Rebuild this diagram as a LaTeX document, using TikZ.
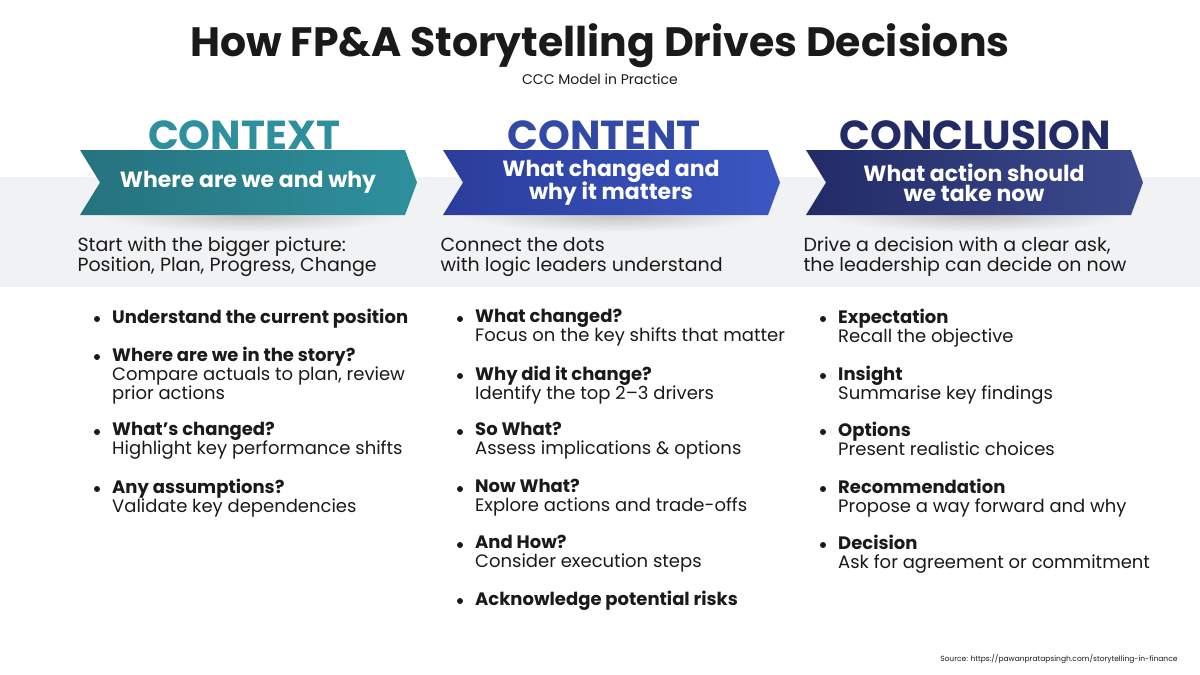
\documentclass[tikz,border=0pt]{standalone}
\usepackage{fontspec}
\setmainfont{Poppins}
\definecolor{txt}{HTML}{1A1A1A}
\definecolor{band}{HTML}{F1F2F4}
\definecolor{tA1}{HTML}{25737E}\definecolor{tA2}{HTML}{2E909D}
\definecolor{tB1}{HTML}{2B3D9C}\definecolor{tB2}{HTML}{3B57C2}
\definecolor{tC1}{HTML}{222B66}\definecolor{tC2}{HTML}{3C4A8E}
\begin{document}
\begin{tikzpicture}[x=1pt,y=-1pt,
  head/.style={font=\fontsize{40.5}{40}\selectfont\bfseries,anchor=base},
  sub/.style={font=\fontsize{22}{22}\selectfont\bfseries,text=white,align=center},
  intro/.style={font=\fontsize{19}{20}\selectfont,text=txt,align=left,anchor=north west},
  item/.style={font=\fontsize{18}{19}\selectfont,text=txt,align=left,anchor=north west,inner sep=0pt},
  dot/.style={circle,fill=txt,inner sep=0pt,minimum size=6pt}]
\useasboundingbox (0,0) rectangle (1200,675);
\fill[white] (0,0) rectangle (1200,675);
\fill[band] (0,177) rectangle (1200,287);
\node[font=\fontsize{41}{41}\selectfont\bfseries,text=txt] (title) at (600,46) {How FP\&A Storytelling Drives Decisions};
\node[font=\fontsize{14}{14}\selectfont,text=txt] (stitle) at (600,79) {CCC Model in Practice};
\foreach \x/\a/\b in {80/tA1/tA2,443/tB1/tB2,806/tC1/tC2}{
  \shade[inner color=black!22,outer color=band] (\x+170,216) ellipse[x radius=150,y radius=16];
  \shade[left color=\a,right color=\b]
   (\x,150) -- (\x+325,150) -- (\x+337,182.5) -- (\x+325,215) -- (\x,215) -- (\x+20,182.5) -- cycle;
}
\node[head,text=tA2] (hA) at (244,149) {CONTEXT};
\node[head,text=tB2!85!black] (hB) at (604,149) {CONTENT};
\node[head,text=tC1] (hC) at (975,149) {CONCLUSION};
\node[sub] (sA) at (248,182.5) {Where are we and why};
\node[sub] (sB) at (611,182.5) {What changed and\\[-2pt]why it matters};
\node[sub] (sC) at (974,182.5) {What action should\\[-2pt]we take now};
\node[intro] (iA) at (74,234) {Start with the bigger picture:\\Position, Plan, Progress, Change};
\node[intro] (iB) at (437,234) {Connect the dots\\with logic leaders understand};
\node[intro] (iC) at (800,234) {Drive a decision with a clear ask,\\the leadership can decide on now};
\newcommand\itm[4]{\node[dot] at (#1-15,#2+10) {};\node[item] (#4) at (#1,#2) {#3};}
\itm{112}{309}{\textbf{Understand the current position}}{a1}
\itm{112}{347}{\textbf{Where are we in the story?}\\Compare actuals to plan, review\\prior actions}{a2}
\itm{112}{422}{\textbf{What’s changed?}\\Highlight key performance shifts}{a3}
\itm{112}{479}{\textbf{Any assumptions?}\\Validate key dependencies}{a4}
\itm{475}{309}{\textbf{What changed?}\\Focus on the key shifts that matter}{b1}
\itm{475}{366}{\textbf{Why did it change?}\\Identify the top 2–3 drivers}{b2}
\itm{475}{422}{\textbf{So What?}\\Assess implications \& options}{b3}
\itm{475}{479}{\textbf{Now What?}\\Explore actions and trade-offs}{b4}
\itm{475}{535}{\textbf{And How?}\\Consider execution steps}{b5}
\itm{475}{591}{\textbf{Acknowledge potential risks}}{b6}
\itm{838}{309}{\textbf{Expectation}\\Recall the objective}{c1}
\itm{838}{366}{\textbf{Insight}\\Summarise key findings}{c2}
\itm{838}{422}{\textbf{Options}\\Present realistic choices}{c3}
\itm{838}{479}{\textbf{Recommendation}\\Propose a way forward and why}{c4}
\itm{838}{535}{\textbf{Decision}\\Ask for agreement or commitment}{c5}
\node[font=\fontsize{7.5}{8}\selectfont,text=txt,anchor=east] (src) at (1181,659) {Source: https://pawanpratapsingh.com/storytelling-in-finance};
\end{tikzpicture}
\end{document}
